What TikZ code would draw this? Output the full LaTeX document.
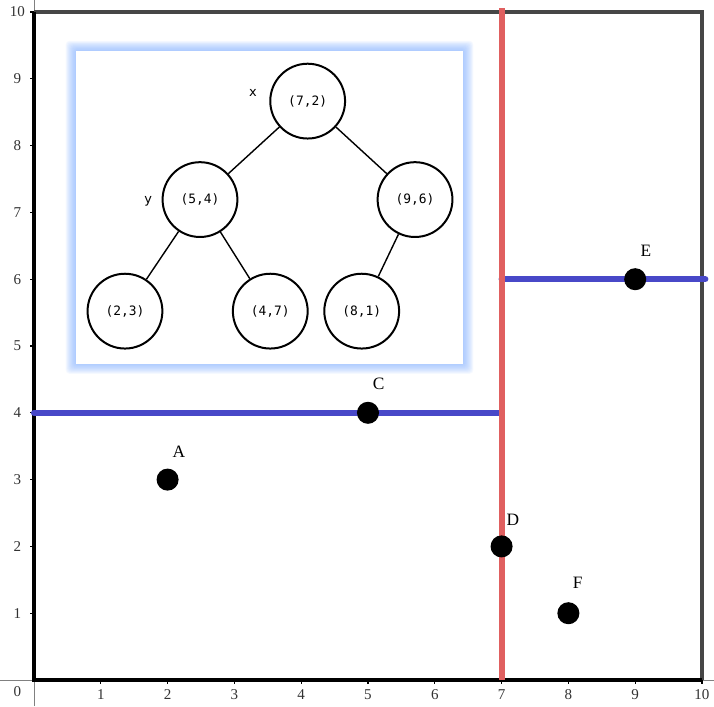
\documentclass[tikz,border=0pt]{standalone}
\usepackage{fontspec}
\setmainfont{Liberation Serif}
\newfontfamily\treemono{DejaVu Sans Mono}
\newfontfamily\treesans{DejaVu Sans}
\definecolor{kdred}{RGB}{224,96,96}
\definecolor{kdblue}{RGB}{72,72,200}
\definecolor{kdgray}{RGB}{70,70,70}
\definecolor{kdglow}{RGB}{130,175,255}
\definecolor{kdtick}{RGB}{50,50,50}
\tikzset{
  pt/.style={circle,fill=black,inner sep=0pt,minimum size=0.33cm},
  ptlabel/.style={font=\fontsize{7.4}{8}\selectfont,inner sep=0pt},
  ticklab/.style={font=\fontsize{6.4}{7}\selectfont,text=kdtick,inner sep=0pt},
  treenode/.style={circle,draw=black,line width=0.85pt,fill=white,minimum size=1.12cm,inner sep=0pt,font=\treemono\fontsize{5.5}{6}\selectfont},
  treeedge/.style={line width=0.6pt},
  splitred/.style={kdred,line width=2.6pt},
  splitblue/.style={kdblue,line width=2.6pt},
}
\begin{document}
\begin{tikzpicture}[x=1cm,y=1cm]
\useasboundingbox (-0.509,-0.39) rectangle (10.180,10.18);
% thin axis lines
\coordinate (xl) at (-0.509,0); \coordinate (xr) at (10.18,0);
\coordinate (yb) at (0,-0.39); \coordinate (yt) at (0,10.18);
\draw[gray,line width=0.4pt] (xl) -- (xr);
\draw[gray,line width=0.4pt] (yb) -- (yt);
% frame
\coordinate (o) at (0,0); \coordinate (br) at (10,0);
\coordinate (tl) at (0,10); \coordinate (tr) at (10,10);
\draw[kdgray,line width=1.3pt] (tl) -- (tr) -- (br);
\draw[black,line width=1.3pt] (tl) -- (o) -- (br);
% ticks and labels
\foreach \i in {1,...,10}{
  \draw[black,line width=0.5pt] (\i,0) -- (\i,-0.06);
  \node[ticklab] (xt\i) at (\i,-0.22) {\i};
  \draw[black,line width=0.5pt] (0,\i) -- (-0.06,\i);
  \node[ticklab] (yt\i) at (-0.25,\i) {\i};
}
\node[ticklab] (zero) at (-0.25,-0.17) {0};
% inset with glow
\coordinate (iA) at (0.629,4.738); \coordinate (iB) at (6.422,9.415);
\foreach \g in {1,...,14}{
  \fill[kdglow,opacity=0.07,rounded corners=1.5pt] ([shift={(-0.011*\g,-0.011*\g)}]iA) rectangle ([shift={(0.011*\g,0.011*\g)}]iB);
}
\fill[white] (iA) rectangle (iB);
% tree
\node[treenode] (n72) at (4.097,8.666) {(7,2)};
\node[treenode] (n54) at (2.485,7.192) {(5,4)};
\node[treenode] (n96) at (5.704,7.192) {(9,6)};
\node[treenode] (n23) at (1.362,5.522) {(2,3)};
\node[treenode] (n47) at (3.537,5.522) {(4,7)};
\node[treenode] (n81) at (4.906,5.522) {(8,1)};
\draw[treeedge] (n72) -- (n54);
\draw[treeedge] (n72) -- (n96);
\draw[treeedge] (n54) -- (n23);
\draw[treeedge] (n54) -- (n47);
\draw[treeedge] (n96) -- (n81);
\node[font=\treesans\fontsize{5.5}{6}\selectfont,inner sep=0pt] (lx) at (3.278,8.79) {x};
\node[font=\treesans\fontsize{5.5}{6}\selectfont,inner sep=0pt] (ly) at (1.711,7.171) {y};
% split lines
\coordinate (rb) at (7,0); \coordinate (rt) at (7,10.06);
\coordinate (b1l) at (0,4); \coordinate (b1r) at (7,4);
\coordinate (b2l) at (7,6); \coordinate (b2r) at (10.05,6);
\draw[splitblue,line cap=round] (b1l) -- (b1r);
\draw[splitblue,line cap=round] (b2l) -- (b2r);
\draw[splitred] (rb) -- (rt);
% points
\node[pt] (A) at (2,3) {};
\node[pt] (C) at (5,4) {};
\node[pt] (D) at (7,2) {};
\node[pt] (E) at (9,6) {};
\node[pt] (F) at (8,1) {};
\node[ptlabel] (lA) at (2.17,3.42) {A};
\node[ptlabel] (lC) at (5.16,4.43) {C};
\node[ptlabel] (lD) at (7.17,2.40) {D};
\node[ptlabel] (lE) at (9.16,6.43) {E};
\node[ptlabel] (lF) at (8.14,1.45) {F};
\end{tikzpicture}
\end{document}
